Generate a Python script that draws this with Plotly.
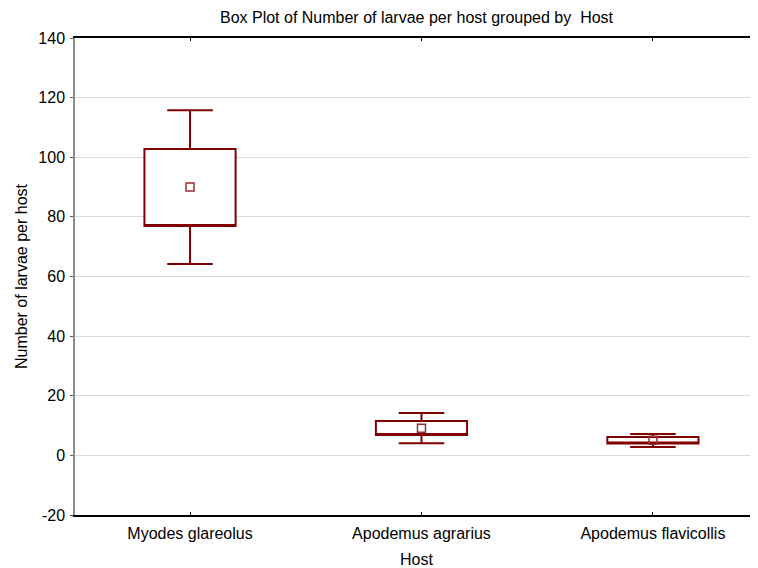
import plotly.graph_objects as go

hosts = ["Myodes glareolus", "Apodemus agrarius", "Apodemus flavicollis"]
box_low = [76.9, 6.8, 4.0]
box_high = [102.8, 11.5, 6.2]
whisker_low = [64.2, 4.1, 2.8]
whisker_high = [115.8, 14.2, 7.2]
means = [90.0, 9.1, 5.1]

y_ticks = [-20, 0, 20, 40, 60, 80, 100, 120, 140]

DARK_RED = "#800000"
FONT = "Liberation Sans, Arial, Helvetica, sans-serif"
FS = 16

# page body has an 8px default margin; figure sized to fill the rest
W, H = 750, 560

fig = go.Figure()
fig.add_trace(go.Box(
    x=hosts,
    q1=box_low,
    median=box_low,
    q3=box_high,
    lowerfence=whisker_low,
    upperfence=whisker_high,
    width=0.394,
    whiskerwidth=0.5,
    fillcolor="white",
    line=dict(color=DARK_RED, width=2),
    boxpoints=False,
    showlegend=False,
    hoverinfo="skip",
))
fig.add_trace(go.Scatter(
    x=hosts,
    y=means,
    mode="markers",
    marker=dict(symbol="square-open", size=8, color="#9a3030", line=dict(width=1.5)),
    showlegend=False,
    hoverinfo="skip",
))

fig.update_layout(
    width=W,
    height=H,
    margin=dict(l=67, r=0, t=30, b=53),
    paper_bgcolor="white",
    plot_bgcolor="white",
    font=dict(family=FONT, size=FS, color="black"),
    title=dict(
        text="Box Plot of Number of larvae per host grouped by\u00a0 Host",
        x=0.5, xref="paper", xanchor="center",
        y=1 - 9.5 / H, yref="container", yanchor="middle",
        font=dict(family=FONT, size=FS, color="black"),
    ),
    xaxis=dict(
        type="category",
        range=[-0.497, 2.454],
        showline=True, linecolor="black", linewidth=2,
        mirror="allticks",
        ticks="inside", ticklen=3, tickcolor="black", tickwidth=1,
        showgrid=False,
        ticklabelstandoff=3,
        tickfont=dict(family=FONT, size=FS, color="black"),
        title=dict(text="Host", font=dict(family=FONT, size=FS, color="black"), standoff=15),
        automargin=False,
    ),
    yaxis=dict(
        range=[-20, 140],
        tickvals=y_ticks,
        ticktext=[str(v) for v in y_ticks],
        showline=True, linecolor="#8c8c8c", linewidth=1.5,
        mirror=False,
        ticks="outside", ticklen=3, tickcolor="#555555", tickwidth=1,
        showgrid=True, gridcolor="#dadada", gridwidth=1,
        zeroline=False,
        ticklabelstandoff=2,
        tickfont=dict(family=FONT, size=FS, color="black"),
        title=dict(text="Number of larvae per host", font=dict(family=FONT, size=FS, color="black"), standoff=7),
        automargin=False,
    ),
)

fig.write_html("out.html")
